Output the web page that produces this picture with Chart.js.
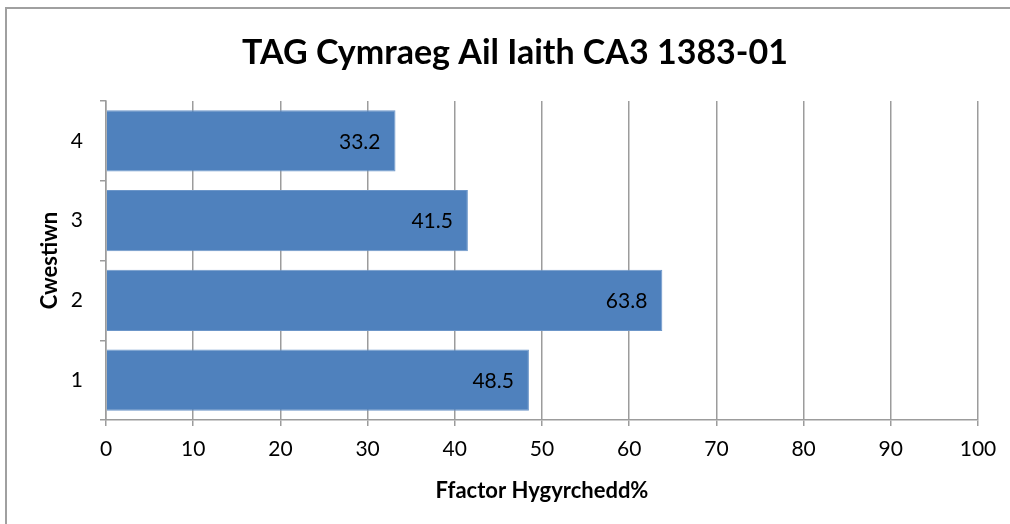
<!DOCTYPE html>
<html>
<head>
<meta charset="utf-8">
<title>TAG Cymraeg Ail Iaith CA3 1383-01</title>
<script src="https://cdn.jsdelivr.net/npm/chart.js@4"></script>
<style>
  body { margin: 0; background: #fff; }
  canvas { display: block; }
</style>
</head>
<body>
<canvas id="myChart" width="1010" height="524"></canvas>
<script>
// data
const questions = ["1", "2", "3", "4"];
const accessFactor = [48.5, 63.8, 41.5, 33.2];
const xTicks = [0, 10, 20, 30, 40, 50, 60, 70, 80, 90, 100];

const chartTitle = "TAG Cymraeg Ail Iaith CA3 1383-01";
const xTitle = "Ffactor Hygyrchedd%";
const yTitle = "Cwestiwn";

const FONT = "Lato, 'Open Sans', sans-serif";
const GRID = "#9c9c9c";

// frame + title drawn by hand, Excel style
const framePlugin = {
  id: "frame",
  beforeDraw(chart) {
    const ctx = chart.ctx;
    ctx.save();
    ctx.fillStyle = "#fff";
    ctx.fillRect(0, 0, chart.width, chart.height);
    ctx.strokeStyle = "#a0a0a0";
    ctx.lineWidth = 2;
    ctx.strokeRect(6, 8, chart.width + 20, chart.height + 20);
    ctx.fillStyle = "#000";
    ctx.font = "bold 34px " + FONT;
    ctx.textAlign = "center";
    ctx.textBaseline = "middle";
    ctx.fillText(chartTitle, 515, 53);
    ctx.restore();
  },
};

// value labels inside bar end
const labelPlugin = {
  id: "barLabels",
  afterDatasetsDraw(chart) {
    const ctx = chart.ctx;
    const meta = chart.getDatasetMeta(0);
    ctx.save();
    ctx.fillStyle = "#000";
    ctx.font = "21px " + FONT;
    ctx.textAlign = "right";
    ctx.textBaseline = "middle";
    meta.data.forEach((bar, i) => {
      ctx.fillText(String(accessFactor[i]), bar.x - 15, bar.y + 1);
    });
    ctx.restore();
  },
};

const data = {
  labels: questions,
  datasets: [
    {
      label: xTitle,
      data: accessFactor,
      backgroundColor: "#4f81bd",
      borderColor: "#6c96c9",
      borderWidth: 1,
      categoryPercentage: 1,
      barPercentage: 0.765,
    },
  ],
};

const config = {
  type: "bar",
  data,
  options: {
    indexAxis: "y",
    responsive: false,
    animation: false,
    layout: { padding: { top: 101, right: 32, bottom: 0, left: 0 } },
    plugins: {
      legend: { display: false },
      title: { display: false },
      tooltip: { enabled: false },
    },
    scales: {
      x: {
        min: 0,
        max: 100,
        afterBuildTicks(scale) {
          scale.ticks = xTicks.map((v) => ({ value: v }));
        },
        afterFit(scale) {
          scale.height = 104;
        },
        grid: { color: GRID, lineWidth: 1.5, tickLength: 6 },
        border: { color: GRID, width: 1.5 },
        ticks: { color: "#000", font: { family: FONT, size: 21 }, padding: 11, maxRotation: 0 },
        title: {
          display: true,
          text: xTitle,
          color: "#000",
          font: { family: FONT, size: 22, weight: "bold" },
          padding: { top: 0, bottom: 20 },
        },
      },
      y: {
        reverse: true,
        afterFit(scale) {
          scale.width = 106;
        },
        grid: { color: GRID, lineWidth: 1.5, tickLength: 6, drawOnChartArea: false, offset: true },
        border: { color: GRID, width: 1.5 },
        ticks: { color: "#000", font: { family: FONT, size: 21 }, padding: 17 },
        title: {
          display: true,
          text: yTitle,
          color: "#000",
          font: { family: FONT, size: 22, weight: "bold" },
          padding: { top: 37, bottom: 0 },
        },
      },
    },
  },
  plugins: [framePlugin, labelPlugin],
};

const myChart = new Chart(document.querySelector("#myChart"), config);
</script>
</body>
</html>
